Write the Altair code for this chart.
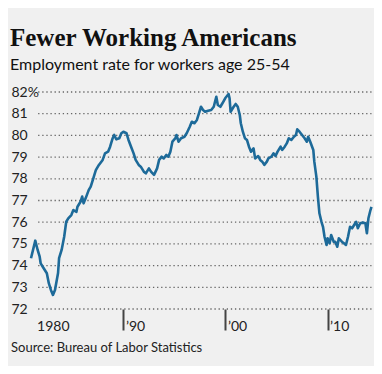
import altair as alt
import pandas as pd

years = [1980.95, 1981.37, 1981.6, 1981.8, 1981.9, 1982.1, 1982.3, 1982.5, 1982.7, 1982.9,
         1983.1, 1983.3, 1983.6, 1983.7, 1983.95, 1984.2, 1984.4, 1984.6, 1984.9, 1985.1,
         1985.4, 1985.5, 1985.8, 1985.96, 1986.1, 1986.3, 1986.6, 1986.8, 1987.0, 1987.3,
         1987.6, 1987.97, 1988.2, 1988.5, 1988.7, 1988.95, 1989.1, 1989.3, 1989.6, 1989.8,
         1990.0, 1990.3, 1990.5, 1990.75, 1991.0, 1991.2, 1991.5, 1991.7, 1992.0, 1992.2,
         1992.5, 1992.7, 1993.0, 1993.3, 1993.5, 1993.75, 1993.95, 1994.2, 1994.4, 1994.6,
         1994.8, 1995.1, 1995.2, 1995.4, 1995.65, 1995.98, 1996.2, 1996.5, 1996.7, 1996.96,
         1997.2, 1997.4, 1997.6, 1997.8, 1998.0, 1998.3, 1998.6, 1998.85, 1999.1, 1999.25,
         1999.5, 1999.7, 1999.97, 2000.3, 2000.4, 2000.5, 2000.8, 2001.0, 2001.2, 2001.4,
         2001.5, 2001.7, 2001.9, 2002.1, 2002.3, 2002.5, 2002.75, 2002.9, 2003.2, 2003.4,
         2003.6, 2003.8, 2004.05, 2004.2, 2004.5, 2004.7, 2004.9, 2005.1, 2005.4, 2005.55,
         2005.8, 2006.0, 2006.2, 2006.45, 2006.7, 2006.9, 2007.03, 2007.25, 2007.5, 2007.75,
         2007.97, 2008.1, 2008.3, 2008.6, 2008.7, 2008.9, 2009.05, 2009.2, 2009.4, 2009.55,
         2009.7, 2009.9, 2010.0, 2010.2, 2010.35, 2010.6, 2010.75, 2010.95, 2011.1, 2011.4,
         2011.6, 2011.8, 2012.0, 2012.2, 2012.4, 2012.6, 2012.8, 2012.96, 2013.2, 2013.45,
         2013.7, 2013.85, 2014.0, 2014.2, 2014.3]
rates = [74.34, 75.15, 74.72, 74.41, 74.1, 73.95, 73.8, 73.65, 73.18, 72.88,
         72.65, 72.88, 73.66, 74.34, 74.72, 75.33, 76.02, 76.18, 76.33, 76.56,
         76.48, 76.71, 76.94, 77.18, 76.87, 77.1, 77.48, 77.64, 77.94, 78.4,
         78.64, 78.87, 79.17, 79.25, 79.48, 79.87, 80.02, 79.82, 79.87, 80.1,
         80.17, 80.1, 79.79, 79.48, 79.17, 78.87, 78.64, 78.56, 78.33, 78.25,
         78.48, 78.33, 78.18, 78.48, 78.87, 79.02, 78.94, 79.1, 79.02, 79.25,
         79.71, 79.87, 80.02, 79.71, 79.87, 79.94, 80.1, 80.4, 80.63, 80.56,
         80.71, 81.02, 81.32, 81.17, 81.09, 81.14, 81.17, 81.32, 81.78, 81.4,
         81.32, 81.48, 81.71, 81.91, 81.71, 81.09, 81.32, 81.45, 81.32, 80.94,
         80.56, 80.17, 79.87, 79.79, 79.48, 79.25, 79.4, 78.94, 79.05, 78.87,
         78.79, 78.64, 78.79, 78.94, 79.02, 79.17, 79.05, 79.25, 79.48, 79.33,
         79.48, 79.63, 79.87, 79.79, 79.94, 80.02, 80.28, 80.17, 80.02, 79.87,
         79.71, 79.94, 79.71, 79.33, 78.79, 78.1, 77.18, 76.41, 76.02, 75.79,
         75.33, 74.95, 75.26, 75.03, 75.41, 75.1, 75.1, 74.87, 75.26, 75.1,
         75.03, 74.95, 75.33, 75.79, 75.72, 75.87, 76.02, 75.72, 75.95, 75.98,
         75.95, 75.49, 76.18, 76.56, 76.71]
grid_levels = [72, 73, 74, 75, 76, 77, 78, 79, 80, 81, 82]
x_tick_values = [1981.5, 1990, 2000, 2010]
grid_start, grid_end = 1981.65, 2014.3

W, H = 341, 217
df = pd.DataFrame({"year": years, "rate": rates})
gdf = pd.DataFrame({"level": grid_levels, "x0": grid_start, "x1": grid_end})

xscale = alt.Scale(domain=[1980.95, 2014.35], nice=False, zero=False)
yscale = alt.Scale(domain=[72, 82], nice=False, zero=False)

xaxis = alt.Axis(values=x_tick_values, title=None, grid=False, domain=False,
                 labelOverlap=False,
                 tickSize=21, tickWidth=2, tickColor="#444444",
                 tickOpacity={"condition": {"test": "datum.value < 1985", "value": 0}, "value": 1},
                 labelAlign="left", labelBaseline="top", labelPadding=-11,
                 labelOffset={"condition": {"test": "datum.value < 1985", "value": 0}, "value": 2},
                 labelFont="Lato", labelFontSize=14, labelColor="#222222",
                 labelExpr="datum.value < 1985 ? '1980' : '\u2019' + slice(toString(datum.value), 2)")
yaxis = alt.Axis(values=grid_levels, title=None, grid=False, domain=False, ticks=False,
                 labelOverlap=False, labelBound=False,
                 tickSize=0, labelAlign="left", labelPadding=20,
                 labelFont="Lato", labelFontSize=14, labelColor="#222222",
                 labelExpr="datum.value == 82 ? '82%' : datum.value")

grid = alt.Chart(gdf).mark_rule(color="#666666", strokeWidth=1.3, strokeDash=[1.3, 2.8]).encode(
    x=alt.X("x0:Q", scale=xscale, axis=xaxis),
    x2="x1:Q",
    y=alt.Y("level:Q", scale=yscale, axis=yaxis),
)

line = alt.Chart(df).mark_line(color="#1d6a99", strokeWidth=2.6, strokeJoin="round").encode(
    x=alt.X("year:Q", scale=xscale, axis=xaxis),
    y=alt.Y("rate:Q", scale=yscale, axis=yaxis),
)

source = alt.Chart(pd.DataFrame({"t": ["Source: Bureau of Labor Statistics"]})).mark_text(
    align="left", baseline="alphabetic", font="Lato", fontSize=13, color="#222222"
).encode(text="t:N", x=alt.value(-20), y=alt.value(H + 43))

chart = alt.layer(grid, line, source).properties(
    width=W, height=H,
    background="#f0f0f0",
    padding={"left": 23, "top": 84, "right": 2, "bottom": 57},
    autosize=alt.AutoSizeParams(type="none"),
    title=alt.TitleParams(
        text="Fewer Working Americans",
        subtitle="Employment rate for workers age 25-54",
        anchor="start", frame="group", dx=-21, offset=12,
        font="Liberation Serif", fontSize=25, fontWeight="bold", color="#111111",
        subtitleFont="Lato", subtitleFontSize=16, subtitleColor="#111111", subtitlePadding=6,
    ),
).configure_view(stroke=None)

chart.save("out.html", embed_options={"renderer": "svg", "actions": False})
